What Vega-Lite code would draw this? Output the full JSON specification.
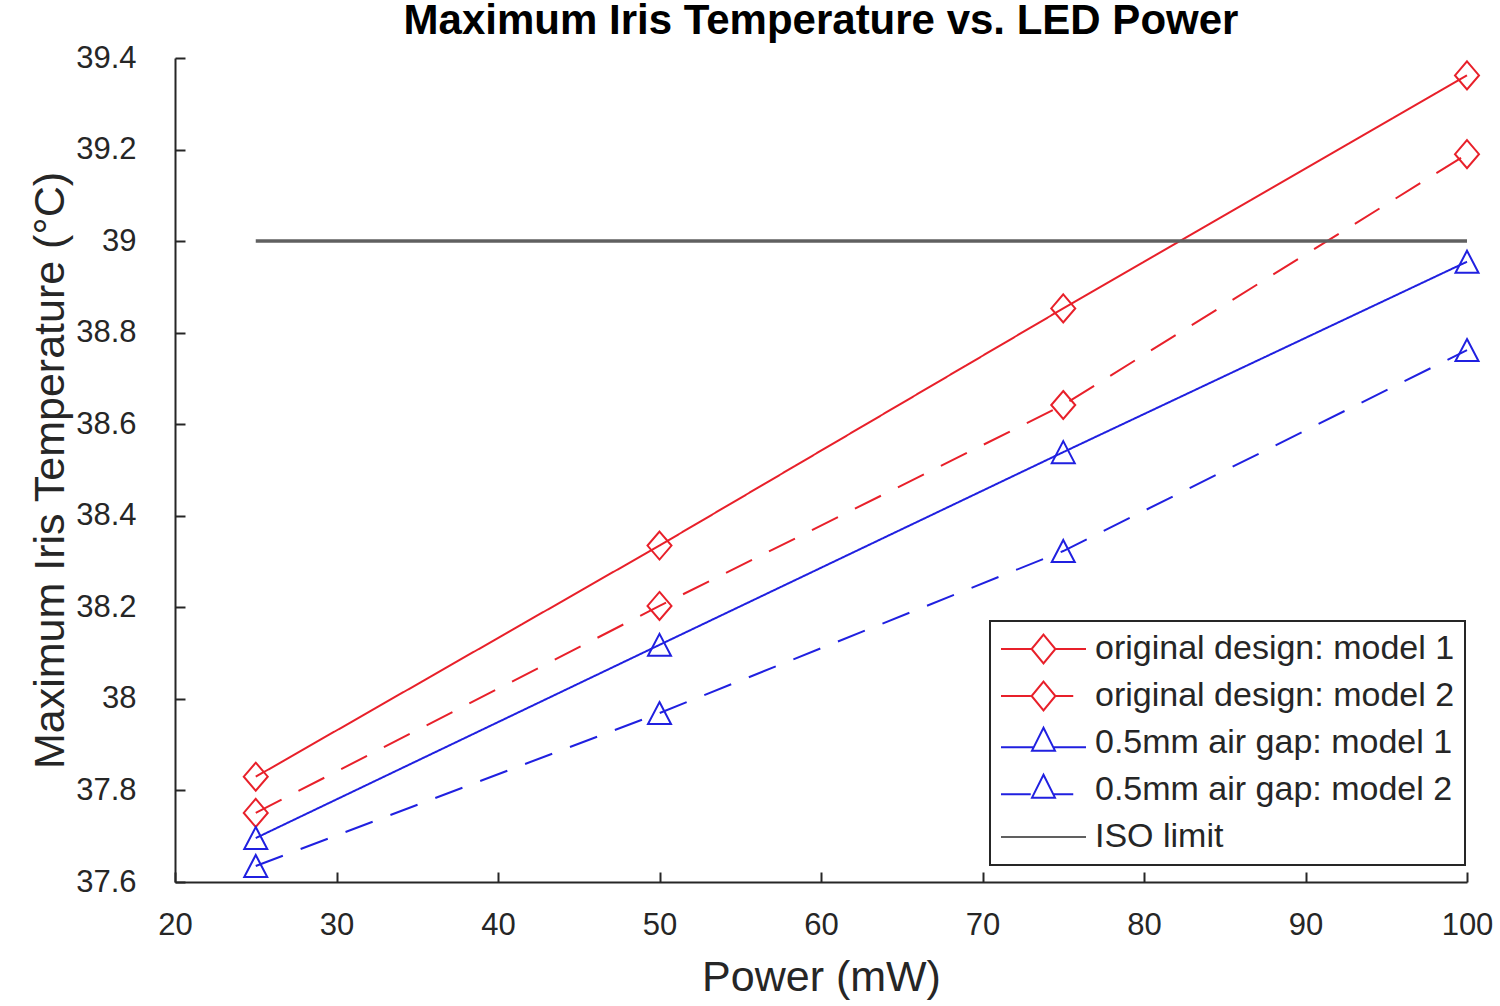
{
  "$schema": "https://vega.github.io/schema/vega-lite/v6.json",
  "autosize": "none",
  "width": 1292,
  "height": 824,
  "padding": {"left": 175, "top": 58, "right": 33, "bottom": 124},
  "background": "white",
  "title": {
    "text": "Maximum Iris Temperature vs. LED Power",
    "font": "Liberation Sans",
    "fontSize": 42,
    "fontWeight": "bold",
    "color": "#000000",
    "anchor": "middle",
    "baseline": "alphabetic",
    "offset": -34
  },
  "config": {
    "view": {"stroke": null},
    "axis": {
      "labelFont": "Liberation Sans",
      "titleFont": "Liberation Sans",
      "labelFontSize": 31,
      "titleFontSize": 43,
      "titleFontWeight": "normal",
      "labelColor": "#262626",
      "titleColor": "#262626",
      "domainColor": "#262626",
      "domainWidth": 2,
      "tickColor": "#262626",
      "tickWidth": 2,
      "tickSize": -10,
      "labelFlush": false,
      "grid": false
    }
  },
  "data": {
    "values": [
      {"series": "original design: model 1", "power": 25, "temp": 37.83},
      {"series": "original design: model 1", "power": 50, "temp": 38.335},
      {"series": "original design: model 1", "power": 75, "temp": 38.853},
      {"series": "original design: model 1", "power": 100, "temp": 39.362},
      {"series": "original design: model 2", "power": 25, "temp": 37.751},
      {"series": "original design: model 2", "power": 50, "temp": 38.203},
      {"series": "original design: model 2", "power": 75, "temp": 38.642},
      {"series": "original design: model 2", "power": 100, "temp": 39.19},
      {"series": "0.5mm air gap: model 1", "power": 25, "temp": 37.696},
      {"series": "0.5mm air gap: model 1", "power": 50, "temp": 38.118},
      {"series": "0.5mm air gap: model 1", "power": 75, "temp": 38.539},
      {"series": "0.5mm air gap: model 1", "power": 100, "temp": 38.955},
      {"series": "0.5mm air gap: model 2", "power": 25, "temp": 37.635},
      {"series": "0.5mm air gap: model 2", "power": 50, "temp": 37.969},
      {"series": "0.5mm air gap: model 2", "power": 75, "temp": 38.323},
      {"series": "0.5mm air gap: model 2", "power": 100, "temp": 38.762},
      {"series": "ISO limit", "power": 25, "temp": 39.0},
      {"series": "ISO limit", "power": 100, "temp": 39.0}
    ]
  },
  "encoding": {
    "x": {
      "field": "power",
      "type": "quantitative",
      "scale": {"domain": [20, 100], "nice": false},
      "axis": {
        "title": "Power (mW)",
        "values": [20, 30, 40, 50, 60, 70, 80, 90, 100],
        "labelPadding": 38,
        "titleY": 108,
        "titleBaseline": "alphabetic"
      }
    },
    "y": {
      "field": "temp",
      "type": "quantitative",
      "scale": {"domain": [37.6, 39.4], "nice": false, "zero": false},
      "axis": {
        "title": "Maximum Iris Temperature (°C)",
        "values": [37.6, 37.8, 38, 38.2, 38.4, 38.6, 38.8, 39, 39.2, 39.4],
        "labelExpr": "'' + datum.value",
        "labelPadding": 49,
        "titleX": -112,
        "titleBaseline": "alphabetic"
      }
    },
    "color": {
      "field": "series",
      "type": "nominal",
      "scale": {
        "domain": ["original design: model 1", "original design: model 2", "0.5mm air gap: model 1", "0.5mm air gap: model 2", "ISO limit"],
        "range": ["#e8202a", "#e8202a", "#2020e0", "#2020e0", "#606060"]
      },
      "legend": {
        "title": null,
        "orient": "none",
        "legendX": 815,
        "legendY": 563,
        "padding": 10,
        "labelFont": "Liberation Sans",
        "labelFontSize": 34,
        "labelColor": "#262626",
        "labelOffset": 8,
        "labelLimit": 0,
        "symbolSize": 7225,
        "symbolStrokeWidth": 2,
        "strokeColor": "#262626",
        "fillColor": "white",
        "clipHeight": 36,
        "rowPadding": 11,
        "encode": {
          "legend": {"update": {"strokeWidth": {"value": 2}}},
          "symbols": {
            "update": {
              "shape": {"signal": "datum.value === 'original design: model 1' ? 'M-1,0L-0.28,0M0,-0.34L0.28,0L0,0.34L-0.28,0ZM0.28,0L1,0' : datum.value === 'original design: model 2' ? 'M-1,0L-0.3,0M0,-0.34L0.28,0L0,0.34L-0.28,0ZM0.28,0L0.7,0' : datum.value === '0.5mm air gap: model 1' ? 'M-1,0.1L-0.23,0.1M0,-0.36L0.27,0.18L-0.27,0.18ZM0.23,0.1L1,0.1' : datum.value === '0.5mm air gap: model 2' ? 'M-1,0.1L-0.3,0.1M0,-0.36L0.27,0.18L-0.27,0.18ZM0.23,0.1L0.7,0.1' : 'M-1,0L1,0'"},
              "size": {"value": 7225},
              "fill": {"value": "transparent"},
              "stroke": {"signal": "datum.value === 'ISO limit' ? '#1a1a1a' : scale('color', datum.value)"},
              "strokeWidth": {"value": 2}
            }
          }
        }
      }
    }
  },
  "layer": [
    {
      "transform": [{"filter": "datum.series !== 'ISO limit'"}],
      "mark": {"type": "line", "strokeWidth": 2},
      "encoding": {
        "strokeDash": {
          "field": "series",
          "type": "nominal",
          "scale": {
            "domain": ["original design: model 1", "original design: model 2", "0.5mm air gap: model 1", "0.5mm air gap: model 2"],
            "range": [[1, 0], [29, 19], [1, 0], [29, 19]]
          },
          "legend": null
        }
      }
    },
    {
      "transform": [{"filter": "datum.series === 'ISO limit'"}],
      "mark": {"type": "line", "strokeWidth": 3.5},
      "encoding": {}
    },
    {
      "transform": [{"filter": "datum.series !== 'ISO limit'"}],
      "mark": {"type": "point", "filled": false, "strokeWidth": 2, "opacity": 1, "size": 400},
      "encoding": {
        "shape": {
          "field": "series",
          "type": "nominal",
          "scale": {
            "domain": ["original design: model 1", "original design: model 2", "0.5mm air gap: model 1", "0.5mm air gap: model 2"],
            "range": ["M0,-1.4L1.2,0L0,1.4L-1.2,0Z", "M0,-1.4L1.2,0L0,1.4L-1.2,0Z", "M0,-1.1L1.15,1.1L-1.15,1.1Z", "M0,-1.1L1.15,1.1L-1.15,1.1Z"]
          },
          "legend": null
        }
      }
    }
  ]
}
